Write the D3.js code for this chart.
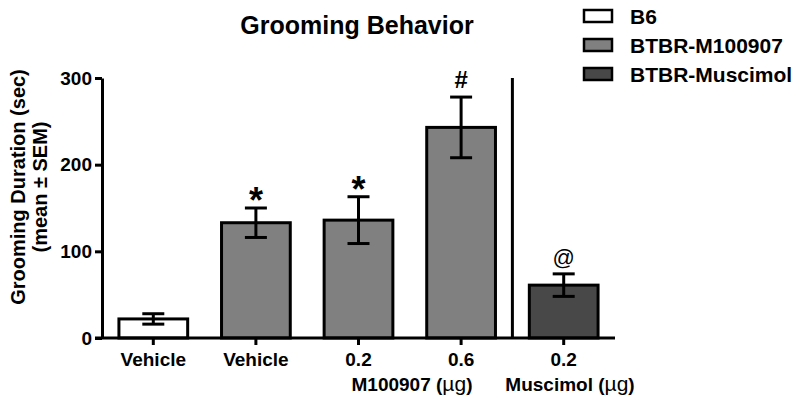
<!DOCTYPE html>
<html>
<head>
<meta charset="utf-8">
<script src="https://d3js.org/d3.v7.min.js"></script>
<style>
  body { margin: 0; background: #fff; }
  svg text { font-family: "Liberation Sans", Arial, sans-serif; font-weight: bold; fill: #000; }
</style>
</head>
<body>
<svg></svg>
<script>
// data
const groups = ["B6", "BTBR-M100907", "BTBR-M100907", "BTBR-M100907", "BTBR-Muscimol"];
const tickLabels = ["Vehicle", "Vehicle", "0.2", "0.6", "0.2"];
const means = [22, 133, 136, 243, 61];
const sems = [6, 17, 27, 35, 13];
const marks = ["", "*", "*", "#", "@"];
const legendNames = ["B6", "BTBR-M100907", "BTBR-Muscimol"];
const legendColors = ["#ffffff", "#808080", "#484848"];
const yTicks = [0, 100, 200, 300];

const svg = d3.select("svg").attr("width", 800).attr("height", 408);

const x = d3.scaleBand()
    .domain(d3.range(means.length))
    .range([102, 615])
    .paddingInner(0.33)
    .paddingOuter(0.165);
const y = d3.scaleLinear().domain([0, 300]).range([338, 78]);
const color = d3.scaleOrdinal().domain(legendNames).range(legendColors);

// title
svg.append("text")
    .attr("x", 357).attr("y", 34)
    .attr("text-anchor", "middle")
    .style("font-size", "25px")
    .text("Grooming Behavior");

// bars
svg.selectAll("rect.bar")
    .data(means)
    .join("rect")
    .attr("class", "bar")
    .attr("x", (d, i) => x(i))
    .attr("width", x.bandwidth())
    .attr("y", d => y(d))
    .attr("height", d => y(0) - y(d))
    .attr("fill", (d, i) => color(groups[i]))
    .attr("stroke", "#000")
    .attr("stroke-width", 3);

// error bars
const err = svg.append("g").attr("stroke", "#000").attr("stroke-width", 3);
means.forEach((m, i) => {
    const cx = x(i) + x.bandwidth() / 2;
    err.append("line").attr("x1", cx).attr("x2", cx).attr("y1", y(m + sems[i])).attr("y2", y(m - sems[i]));
    err.append("line").attr("x1", cx - 11).attr("x2", cx + 11).attr("y1", y(m + sems[i])).attr("y2", y(m + sems[i]));
    err.append("line").attr("x1", cx - 11).attr("x2", cx + 11).attr("y1", y(m - sems[i])).attr("y2", y(m - sems[i]));
});

// significance marks
svg.selectAll("text.mark")
    .data(marks)
    .join("text")
    .attr("class", "mark")
    .attr("x", (d, i) => x(i) + x.bandwidth() / 2)
    .attr("y", (d, i) => y(means[i] + sems[i]) - (d === "*" ? -5 : 9))
    .attr("text-anchor", "middle")
    .style("font-size", d => d === "*" ? "36px" : (d === "#" ? "24px" : "22px"))
    .style("font-weight", d => d === "@" ? "normal" : "bold")
    .text(d => d);

// y axis
const yAxis = svg.append("g")
    .attr("transform", "translate(102,0)")
    .call(d3.axisLeft(y).tickValues(yTicks).tickSize(7).tickSizeOuter(0));
yAxis.select(".domain").attr("stroke-width", 3);
yAxis.selectAll(".tick line").attr("stroke-width", 3);
yAxis.selectAll(".tick text")
    .attr("x", -10)
    .style("font-size", "19px")
    .style("font-family", "Liberation Sans, Arial, sans-serif")
    .style("font-weight", "bold");

// x axis
const xAxis = svg.append("g")
    .attr("transform", "translate(0,338)")
    .call(d3.axisBottom(x).tickFormat(i => tickLabels[i]).tickSize(7).tickSizeOuter(0));
xAxis.select(".domain").attr("d", "M95,0H615").attr("stroke-width", 3);
xAxis.selectAll(".tick line").attr("stroke-width", 3);
xAxis.selectAll(".tick text")
    .attr("y", 15)
    .style("font-size", "19px")
    .style("font-family", "Liberation Sans, Arial, sans-serif")
    .style("font-weight", "bold");

// separator between M100907 and Muscimol groups
const sepX = (x(3) + x.bandwidth() + x(4)) / 2;
svg.append("line")
    .attr("x1", sepX).attr("x2", sepX)
    .attr("y1", y(300)).attr("y2", y(0))
    .attr("stroke", "#000").attr("stroke-width", 3);

// group titles under the axis
const groupTitles = [["M100907", 412], ["Muscimol", 570]];
groupTitles.forEach(([name, cx]) => {
    const t = svg.append("text")
        .attr("x", cx).attr("y", 391)
        .attr("text-anchor", "middle")
        .style("font-size", "19px");
    t.append("tspan").text(name + " (");
    t.append("tspan").style("font-weight", "normal").style("font-size", "21px").text("\u00b5g");
    t.append("tspan").text(")");
});

// y label
const yl = svg.append("text")
    .attr("transform", "translate(0,187) rotate(-90)")
    .attr("text-anchor", "middle")
    .style("font-size", "20px");
yl.append("tspan").attr("x", 0).attr("y", 25).text("Grooming Duration (sec)");
yl.append("tspan").attr("x", 0).attr("y", 47).text("(mean \u00b1 SEM)");

// legend
const legend = svg.append("g").attr("transform", "translate(584,10)");
legendNames.forEach((name, i) => {
    const g = legend.append("g").attr("transform", `translate(0,${i * 29})`);
    g.append("rect")
        .attr("width", 28).attr("height", 12)
        .attr("fill", color(name))
        .attr("stroke", "#000").attr("stroke-width", 2.5);
    g.append("text")
        .attr("x", 46).attr("y", 14)
        .style("font-size", "21px")
        .text(name);
});
</script>
</body>
</html>
